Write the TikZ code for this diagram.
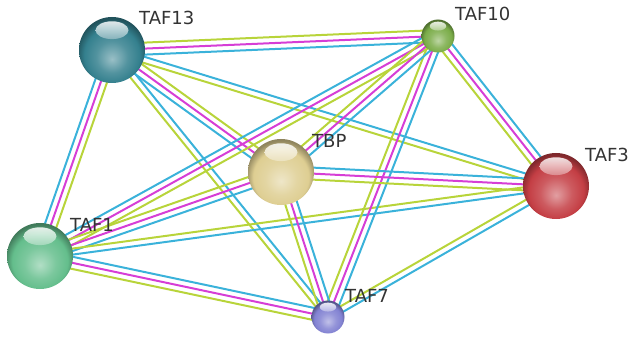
\documentclass[tikz,border=0pt]{standalone}
\usepackage{fontspec}
\setmainfont{DejaVu Sans}
\usetikzlibrary{calc}

% evidence channels
\definecolor{txtmine}{RGB}{184,212,58}
\definecolor{expt}{RGB}{214,62,214}
\definecolor{dbase}{RGB}{58,178,218}
% protein colours
\definecolor{colA}{RGB}{52,128,142}
\definecolor{colB}{RGB}{122,172,72}
\definecolor{colC}{RGB}{222,206,146}
\definecolor{colD}{RGB}{196,62,68}
\definecolor{colE}{RGB}{100,190,140}
\definecolor{colF}{RGB}{130,130,210}

\pgfdeclarelayer{background}
\pgfsetlayers{background,main}

\pgfdeclareradialshading[orbcol]{orb}{\pgfpoint{0bp}{-7bp}}{%
  color(0bp)=(orbcol!50!white); color(12bp)=(orbcol!85!white);
  color(21bp)=(orbcol); color(27bp)=(orbcol!65!black);
  color(50bp)=(orbcol!45!black)}

\tikzset{
  orb/.style={circle, inner sep=0pt, /utils/exec={\colorlet{orbcol}{#1}}, shading=orb},
  bigorb/.style={minimum size=66pt},
  smallorb/.style={minimum size=33pt},
  lbl/.style={text=black!80, font=\fontsize{18}{18}\selectfont, inner sep=0pt, anchor=base west},
  band/.style={line width=2pt},
}

% parallel coloured lines between two proteins
\newcommand{\bond}[3]{%
  \foreach \c/\o in {#3}
    \draw[band,\c] ($(#1.center)!\o pt!90:(#2.center)$) -- ($(#2.center)!\o pt!-90:(#1.center)$);
}

\begin{document}
\begin{tikzpicture}[x=1pt,y=-1pt]
    \useasboundingbox (0,0) rectangle (633,337);

    % proteins
    \node [orb=colA, bigorb] (taf13) at (112,50) {};
    \node [orb=colB, smallorb] (taf10) at (438,36) {};
    \node [orb=colC, bigorb] (tbp) at (281,172) {};
    \node [orb=colD, bigorb] (taf3) at (556,186) {};
    \node [orb=colE, bigorb] (taf1) at (40,256) {};
    \node [orb=colF, smallorb] (taf7) at (328,317) {};

    % glossy caps
    \foreach \n/\r/\c in {taf13/33/colA, taf10/16.5/colB, tbp/33/colC, taf3/33/colD, taf1/33/colE, taf7/16.5/colF}
      \shade [top color=white, bottom color=\c!55!white, opacity=0.85]
        ($(\n.center)+(0,-0.6*\r)$) ellipse ({0.5*\r} and {0.27*\r});

    \node [lbl] (l13) at (139,25) {TAF13};
    \node [lbl] (l10) at (455,21) {TAF10};
    \node [lbl] (lbp) at (312,148) {TBP};
    \node [lbl] (l3) at (585,162) {TAF3};
    \node [lbl] (l1) at (70,232) {TAF1};
    \node [lbl] (l7) at (345,302) {TAF7};

    % interactions
    \begin{pgfonlayer}{background}
    \bond{taf13}{taf10}{txtmine/6, expt/0, dbase/-6}
    \bond{taf13}{taf3}{dbase/3, txtmine/-3}
    \bond{taf13}{tbp}{txtmine/6, expt/0, dbase/-6}
    \bond{taf13}{taf7}{dbase/3, txtmine/-3}
    \bond{taf1}{taf13}{dbase/6, expt/0, txtmine/-6}
    \bond{taf1}{taf10}{dbase/6, expt/0, txtmine/-6}
    \bond{taf1}{tbp}{txtmine/6, expt/0, dbase/-6}
    \bond{taf1}{taf3}{txtmine/3, dbase/-3}
    \bond{taf1}{taf7}{dbase/6, expt/0, txtmine/-6}
    \bond{taf10}{taf3}{dbase/6, expt/0, txtmine/-6}
    \bond{taf10}{taf7}{dbase/6, expt/0, txtmine/-6}
    \bond{taf10}{tbp}{dbase/6, expt/0, txtmine/-6}
    \bond{tbp}{taf3}{dbase/6, expt/0, txtmine/-6}
    \bond{tbp}{taf7}{dbase/6, expt/0, txtmine/-6}
    \bond{taf7}{taf3}{txtmine/3, dbase/-3}
    \end{pgfonlayer}
\end{tikzpicture}
\end{document}
